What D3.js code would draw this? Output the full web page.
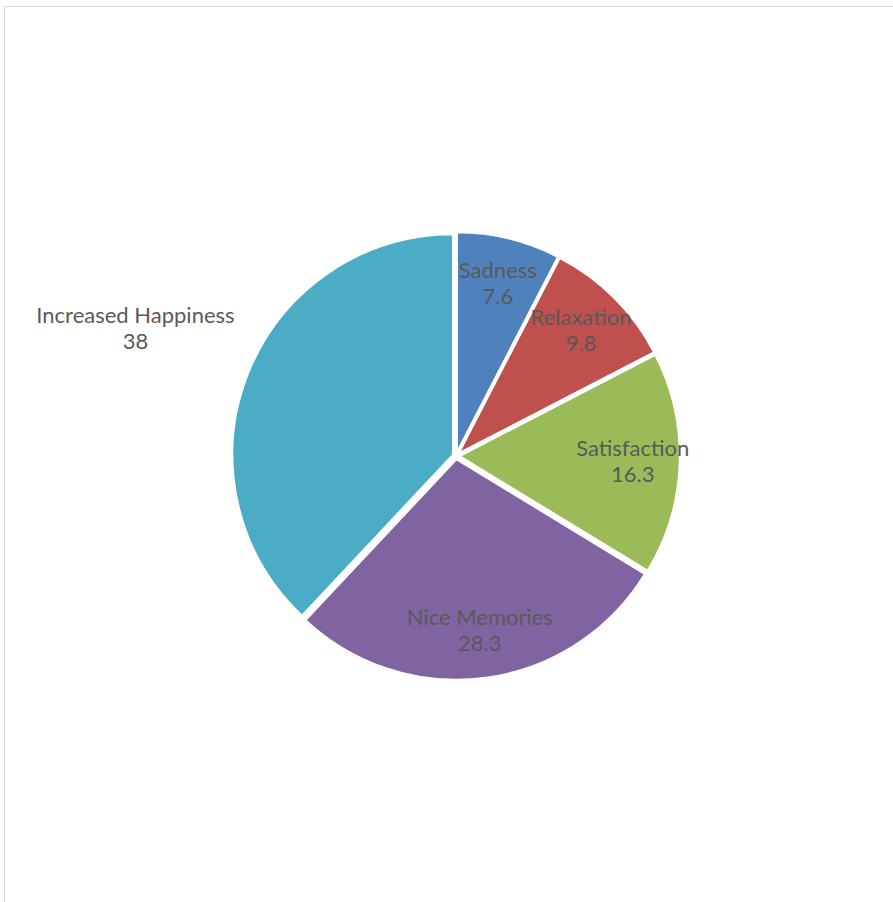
<!DOCTYPE html>
<html>
<head>
<meta charset="utf-8">
<script src="https://cdn.jsdelivr.net/npm/d3@7"></script>
<style>
  body { margin: 0; background: #fff; }
  svg { display: block; }
</style>
</head>
<body>
<svg id="chart"></svg>
<script>
const categories = ["Sadness", "Relaxation", "Satisfaction", "Nice Memories", "Increased Happiness"];
const values = [7.6, 9.8, 16.3, 28.3, 38];
const colors = ["#4F81BD", "#C0504D", "#9BBB59", "#8064A2", "#4BACC6"];

const width = 893;
const height = 902;
const cx = 456, cy = 456;
const radius = 221;
const explode = 3;

const svg = d3.select("#chart")
  .attr("width", width)
  .attr("height", height);

// chart area frame (runs off the right/bottom like the original)
svg.append("rect")
  .attr("x", 4.5)
  .attr("y", 6.5)
  .attr("width", width + 20)
  .attr("height", height + 20)
  .attr("fill", "none")
  .attr("stroke", "#d9d9d9")
  .attr("stroke-width", 1);

const dataset = categories.map((c, i) => ({name: c, value: values[i], color: colors[i]}));

const pie = d3.pie()
  .value(d => d.value)
  .sort(null);

const arcs = pie(dataset);

const arc = d3.arc()
  .innerRadius(0)
  .outerRadius(radius);

const g = svg.append("g")
  .attr("transform", "translate(" + cx + "," + cy + ")");

g.selectAll("path")
  .data(arcs)
  .enter()
  .append("path")
  .attr("transform", d => {
    var mid = (d.startAngle + d.endAngle) / 2;
    return "translate(" + (Math.sin(mid) * explode) + "," + (-Math.cos(mid) * explode) + ")";
  })
  .attr("d", arc)
  .attr("fill", d => d.data.color)
  .attr("stroke", "#fff")
  .attr("stroke-width", 2.5)
  .attr("stroke-linejoin", "round");

// labels: inside at ~80% radius, the big slice is labelled outside
const labels = g.selectAll("g.label")
  .data(arcs)
  .enter()
  .append("g")
  .attr("class", "label")
  .attr("transform", d => {
    var mid = (d.startAngle + d.endAngle) / 2;
    var r = d.data.name === "Increased Happiness" ? radius * 1.56 : radius * 0.8;
    return "translate(" + (Math.sin(mid) * r) + "," + (-Math.cos(mid) * r) + ")";
  });

labels.append("text")
  .attr("text-anchor", "middle")
  .attr("font-family", "Lato, 'Open Sans', sans-serif")
  .attr("font-size", 22)
  .attr("fill", "#595959")
  .attr("y", -6)
  .text(d => d.data.name);

labels.append("text")
  .attr("text-anchor", "middle")
  .attr("font-family", "Lato, 'Open Sans', sans-serif")
  .attr("font-size", 22)
  .attr("fill", "#595959")
  .attr("y", 20)
  .text(d => d.data.value);
</script>
</body>
</html>
